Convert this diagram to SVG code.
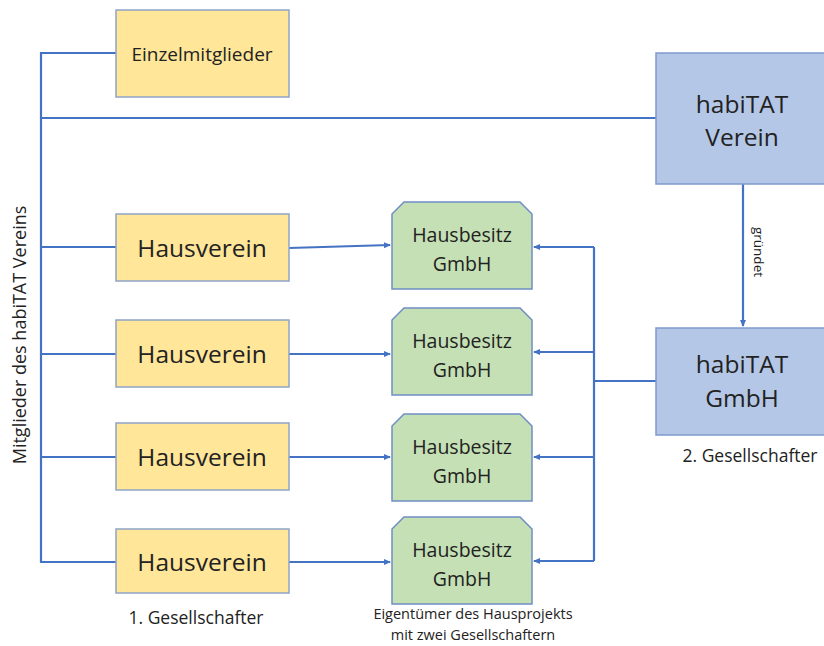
<svg xmlns="http://www.w3.org/2000/svg" width="824" height="646" viewBox="0 0 824 646">
<style>
text{font-family:"Open Sans","Liberation Sans",sans-serif;fill:#222;text-anchor:middle}
.y{fill:#FFE699;stroke:#8FA4C8;stroke-width:1.5}
.g{fill:#C5E0B4;stroke:#6F8FC4;stroke-width:1.5}
.b{fill:#B4C7E7;stroke:#7F9BCB;stroke-width:1.5}
.c path{fill:none;stroke:#4472C4;stroke-width:2.2}
.hv{font-size:24.5px}
.hb{font-size:19.5px}
</style>
<defs>
<marker id="a" markerWidth="8" markerHeight="8" refX="6" refY="4" orient="auto" markerUnits="userSpaceOnUse">
<path d="M0,1 L7,4 L0,7 Z" fill="#4472C4"/>
</marker>
</defs>
<g class="c">
<path d="M116,53 H41 V562 H116"/>
<path d="M41,118 H656"/>
<path d="M41,247 H116"/>
<path d="M41,354 H116"/>
<path d="M41,457 H116"/>
<path d="M289,248 L390,245" marker-end="url(#a)"/>
<path d="M289,354 H390" marker-end="url(#a)"/>
<path d="M289,457 H390" marker-end="url(#a)"/>
<path d="M289,562 H390" marker-end="url(#a)"/>
<path d="M594,247 V561"/>
<path d="M594,247 H534" marker-end="url(#a)"/>
<path d="M594,352 H534" marker-end="url(#a)"/>
<path d="M594,457 H534" marker-end="url(#a)"/>
<path d="M594,561 H534" marker-end="url(#a)"/>
<path d="M594,381 H656"/>
<path d="M743,184 V326" marker-end="url(#a)"/>
</g>
<text transform="translate(754,252) rotate(90)" font-size="13.5">gründet</text>
<g id="einzel"><rect class="y" x="116" y="10" width="173" height="87"/><text x="202" y="61" font-size="19">Einzelmitglieder</text></g>
<g id="verein"><rect class="b" x="656" y="53" width="175" height="131"/><text x="742" y="113" font-size="24.5">habiTAT</text><text x="742" y="146" font-size="24.5">Verein</text></g>
<g id="hgmbh"><rect class="b" x="656" y="328" width="175" height="107"/><text x="742" y="373" font-size="24.5">habiTAT</text><text x="742" y="407" font-size="24.5">GmbH</text></g>
<g id="hv1"><rect class="y" x="116" y="214" width="173" height="67"/><text class="hv" x="202" y="257">Hausverein</text></g>
<g id="hv2"><rect class="y" x="116" y="320" width="173" height="67"/><text class="hv" x="202" y="363">Hausverein</text></g>
<g id="hv3"><rect class="y" x="116" y="423" width="173" height="67"/><text class="hv" x="202" y="466">Hausverein</text></g>
<g id="hv4"><rect class="y" x="116" y="529" width="173" height="64"/><text class="hv" x="202" y="571">Hausverein</text></g>
<g id="hb1"><path class="g" d="M404,202 H520 L532,214 V289 H392 V214 Z"/><text class="hb" x="462" y="242">Hausbesitz</text><text class="hb" x="462" y="271">GmbH</text></g>
<g id="hb2"><path class="g" d="M404,308 H520 L532,320 V395 H392 V320 Z"/><text class="hb" x="462" y="348">Hausbesitz</text><text class="hb" x="462" y="377">GmbH</text></g>
<g id="hb3"><path class="g" d="M404,414 H520 L532,426 V501 H392 V426 Z"/><text class="hb" x="462" y="454">Hausbesitz</text><text class="hb" x="462" y="483">GmbH</text></g>
<g id="hb4"><path class="g" d="M404,517 H520 L532,529 V604 H392 V529 Z"/><text class="hb" x="462" y="557">Hausbesitz</text><text class="hb" x="462" y="586">GmbH</text></g>
<text transform="translate(26,335) rotate(-90)" font-size="18">Mitglieder des habiTAT Vereins</text>
<text x="196" y="624" font-size="17.5">1. Gesellschafter</text>
<text x="750" y="462" font-size="17.5">2. Gesellschafter</text>
<text x="473" y="619" font-size="14.5">Eigentümer des Hausprojekts</text>
<text x="473" y="640" font-size="14.5">mit zwei Gesellschaftern</text>
</svg>
